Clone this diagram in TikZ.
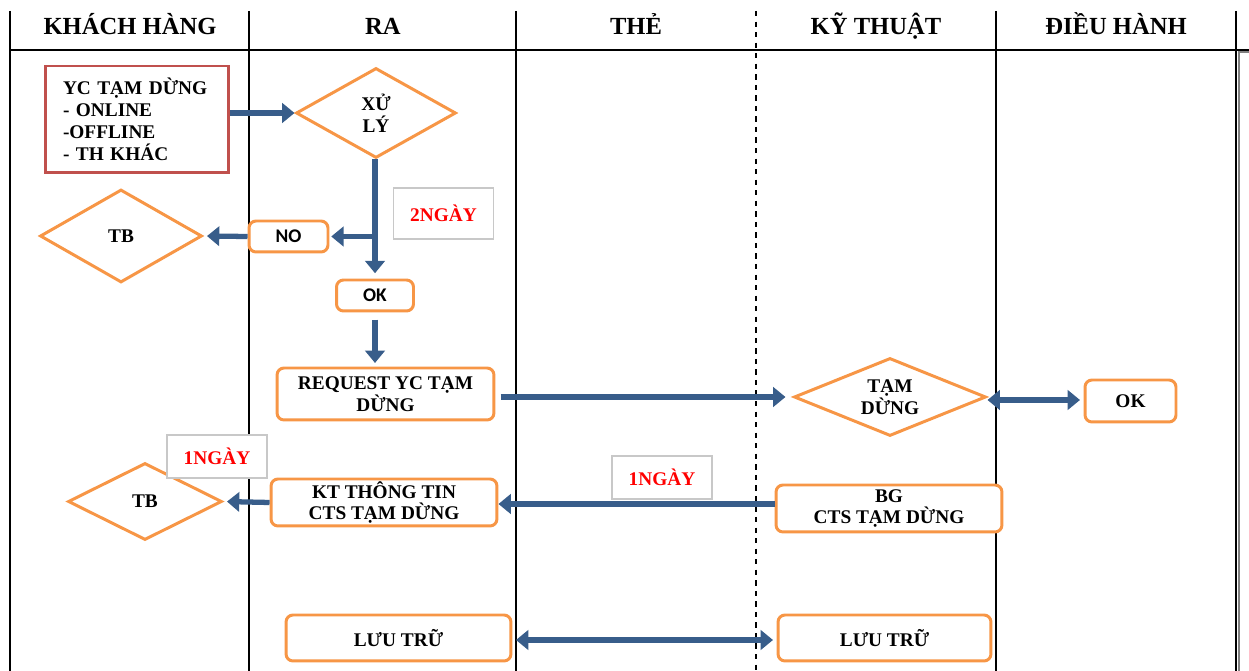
\documentclass[tikz,border=0pt]{standalone}
\usepackage{fontspec}
\setmainfont{Liberation Serif}
\newfontfamily\calibfont{Carlito}
\usetikzlibrary{shapes.geometric,arrows.meta}
\definecolor{flowBlue}{RGB}{56,93,138}
\definecolor{shapeOrange}{RGB}{247,150,70}
\definecolor{askRed}{RGB}{192,80,77}
\definecolor{tagGray}{RGB}{200,200,200}
\tikzset{
  laneHead/.style={anchor=base,font=\fontsize{14}{16}\selectfont\bfseries},
  stepBox/.style={rectangle,rounded corners=4pt,draw=shapeOrange,line width=1.7pt,
                  fill=white,align=center,inner sep=0pt,
                  font=\fontsize{11}{12.5}\selectfont\bfseries},
  decDiam/.style 2 args={diamond,draw=shapeOrange,line width=1.7pt,fill=white,
                  inner sep=0pt,aspect=2.4,align=center,minimum width=#1,minimum height=#2,
                  font=\fontsize{11}{12.5}\selectfont\bfseries},
  dayTag/.style={rectangle,draw=tagGray,line width=0.6pt,fill=white,text=red,
                 minimum width=2cm,font=\fontsize{11}{12.5}\selectfont\bfseries},
  flowArrow/.style={draw=flowBlue,line width=3pt,-{Triangle[length=7pt,width=11pt]}},
  flowBoth/.style={draw=flowBlue,line width=3pt,
                   {Triangle[length=7pt,width=11pt]}-{Triangle[length=7pt,width=11pt]}},
}
\begin{document}
\begin{tikzpicture}[x=0.02cm,y=-0.02cm]
  \useasboundingbox (0,0) rectangle (1249,671);
  % lanes
  \draw[line width=0.9pt] (10,50) -- (1249,50);
  \foreach \x in {10,249,516,996,1236}{\draw[line width=0.7pt] (\x,11) -- (\x,671);}
  \draw[line width=0.6pt,dashed] (756,11) -- (756,671);
  \draw[gray,line width=1pt] (1249,52) -- (1239,52) -- (1239,671);
  \node[laneHead] (hKH) at (130,35) {KHÁCH HÀNG};
  \node[laneHead] (hRA) at (383,35) {RA};
  \node[laneHead] (hTH) at (636,35) {THẺ};
  \node[laneHead] (hKT) at (876,35) {KỸ THUẬT};
  \node[laneHead] (hDH) at (1116,35) {ĐIỀU HÀNH};
  % steps
  \node[stepBox,rounded corners=0pt,draw=askRed,align=left,inner xsep=0.36cm,
        text width=2.96cm,minimum height=2.14cm] (yc) at (137,119.5)
        {YC TẠM DỪNG\\ - ONLINE\\ -OFFLINE\\ - TH KHÁC};
  \node[decDiam={3.2cm}{1.8cm}] (xl) at (376,113) {XỬ\\LÝ};
  \node[decDiam={3.24cm}{1.86cm}] (tb1) at (121,236) {TB};
  \node[stepBox,font=\calibfont\fontsize{11}{12.5}\selectfont\bfseries,
        minimum width=1.58cm,minimum height=0.62cm] (no) at (288.5,236.5) {NO};
  \node[stepBox,font=\calibfont\fontsize{11}{12.5}\selectfont\bfseries,
        minimum width=1.54cm,minimum height=0.62cm] (ok1) at (375,295.5) {OK};
  \node[dayTag,minimum height=1.02cm] (d2) at (443.5,213.5) {2NGÀY};
  \node[stepBox,minimum width=4.34cm,minimum height=1.04cm] (req) at (385.5,394) {REQUEST YC TẠM\\DỪNG};
  \node[decDiam={3.84cm}{1.56cm}] (td) at (890,397) {TẠM\\DỪNG};
  \node[stepBox,minimum width=1.82cm,minimum height=0.84cm] (ok2) at (1130.5,401) {OK};
  \node[stepBox,minimum width=4.52cm,minimum height=0.94cm] (bg) at (889,508.5) {BG\\CTS TẠM DỪNG};
  \node[dayTag,minimum height=0.86cm] (d1b) at (662,477.5) {1NGÀY};
  \node[stepBox,minimum width=4.52cm,minimum height=0.94cm] (kt) at (384,502.5) {KT THÔNG TIN\\CTS TẠM DỪNG};
  \node[decDiam={3.08cm}{1.54cm}] (tb2) at (145,501.5) {TB};
  \node[dayTag,minimum height=0.86cm] (d1a) at (217,456.5) {1NGÀY};
  \node[stepBox,minimum width=4.5cm,minimum height=0.92cm] (lt1) at (398.5,638) {LƯU TRỮ};
  \node[stepBox,minimum width=4.26cm,minimum height=0.92cm] (lt2) at (884.5,638) {LƯU TRỮ};
  % flows
  \coordinate (br) at (ok1.north |- no.east);
  \draw[flowArrow] (yc.east |- xl) -- (xl.west);
  \draw[flowArrow,shorten >=3pt] (ok1.north |- xl.south) -- (ok1.north);
  \draw[flowArrow,shorten >=1pt] (br) -- (no.east);
  \draw[flowArrow,shorten >=2pt] (no.west) -- (tb1.east);
  \draw[flowArrow,shorten <=4pt,shorten >=2pt] (ok1.south) -- (ok1.south |- req.north);
  \draw[flowArrow,shorten <=3pt,shorten >=4pt] (req.east |- td) -- (td.west);
  \draw[flowBoth,shorten >=2pt] (td.east |- 0,400) -- (ok2.west |- 0,400);
  \draw[flowArrow] (bg.west |- 0,504) -- (kt.east |- 0,504);
  \draw[flowArrow,shorten >=2pt] (kt.west) -- (tb2.east);
  \draw[flowBoth,shorten <=2pt,shorten >=2pt] (lt1.east |- 0,640) -- (lt2.west |- 0,640);
\end{tikzpicture}
\end{document}
